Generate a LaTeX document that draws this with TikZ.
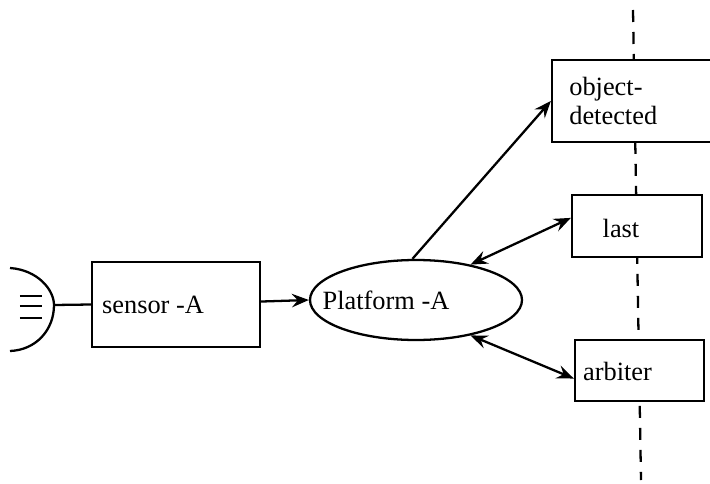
\documentclass[tikz,border=0pt]{standalone}
\usepackage{fontspec}
\setmainfont{Liberation Serif}
\usetikzlibrary{arrows.meta,shapes.geometric}
\tikzset{
  boxnode/.style={draw,line width=1.3pt,fill=white,inner sep=0pt},
  labelnode/.style={font=\fontsize{15}{17}\selectfont,inner sep=0pt},
  link/.style={line width=1.3pt},
  >={Stealth[length=0.34cm,width=0.27cm,inset=0.12cm]}
}
\begin{document}
\begin{tikzpicture}
        \useasboundingbox (0,0) rectangle (14.2,9.66);
        \coordinate (linetop) at (12.66,9.46);
        \coordinate (linebottom) at (12.82,0.06);
        \draw [link, dash pattern=on 0.24cm off 0.2cm] (linetop) -- (linebottom);
        \node [boxnode, minimum width=3.36cm, minimum height=1.7cm] (sensor) at (3.52,3.57) {};
        \node [boxnode, ellipse, minimum width=4.24cm, minimum height=1.6cm] (platform) at (8.32,3.66) {};
        \node [boxnode, minimum width=3.36cm, minimum height=1.64cm] (detected) at (12.72,7.64) {};
        \node [boxnode, minimum width=2.6cm, minimum height=1.24cm] (last) at (12.74,5.14) {};
        \node [boxnode, minimum width=2.58cm, minimum height=1.22cm] (arbiter) at (12.79,2.25) {};
        \node [labelnode] (sensorlabel) at (3.06,3.56) {sensor -A};
        \node [labelnode] (platformlabel) at (7.72,3.66) {Platform -A};
        \node [labelnode, anchor=west, align=left] (detectedlabel) at (11.38,7.64) {object-\\detected};
        \node [labelnode] (lastlabel) at (12.42,5.1) {last};
        \node [labelnode] (arbiterlabel) at (12.35,2.24) {arbiter};
        \coordinate (eye) at (1.08,3.56);
        \draw [link] (0.2,4.3) .. controls (0.76,4.26) and (1.08,3.86) .. (eye) .. controls (1.08,3.06) and (0.72,2.66) .. (0.2,2.64);
        \draw [line width=0.9pt] (0.4,3.74) -- (0.84,3.74);
        \draw [line width=0.9pt] (0.4,3.54) -- (0.84,3.54);
        \draw [line width=0.9pt] (0.4,3.3) -- (0.84,3.3);
        \draw [link] (eye) -- (sensor.west);
        \draw [link, ->] (sensor.2) -- (platform.west);
        \draw [link, ->] (platform.95) -- (detected.west);
        \draw [link, <->] (platform.33) -- (last.173);
        \draw [link, <->] (platform.-33) -- (arbiter.187);
\end{tikzpicture}
\end{document}
